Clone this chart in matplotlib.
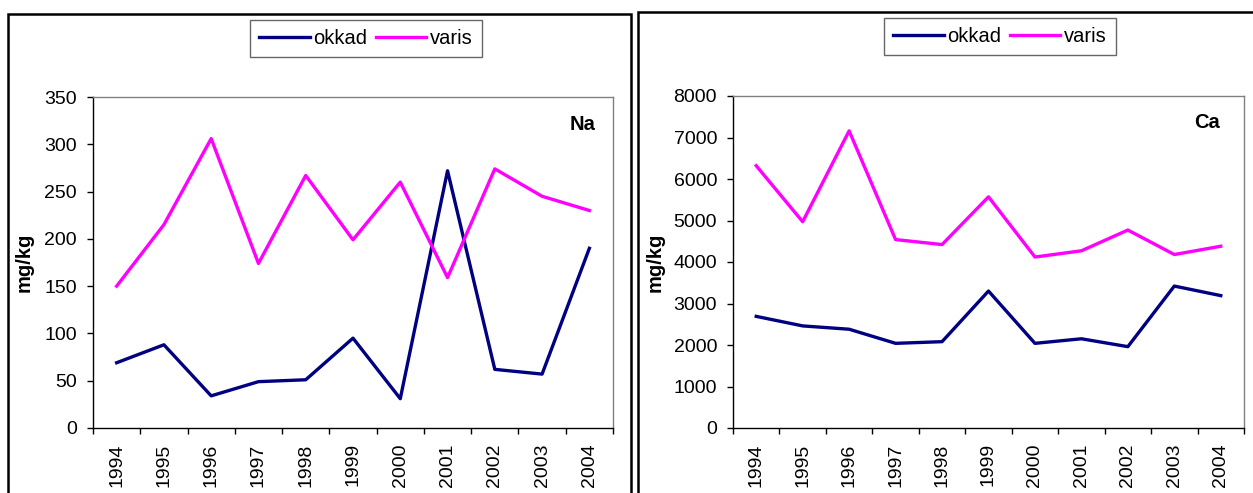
import matplotlib
matplotlib.use("Agg")
import matplotlib.pyplot as plt
from matplotlib.patches import Rectangle
from matplotlib.ticker import FixedLocator, NullFormatter

plt.rcParams['font.family'] = ['Liberation Sans', 'DejaVu Sans']

years = ["1994", "1995", "1996", "1997", "1998", "1999", "2000", "2001", "2002", "2003", "2004"]
na_okkad = [69, 88, 34, 49, 51, 95, 31, 272, 62, 57, 190]
na_varis = [150, 215, 306, 174, 267, 199, 260, 159, 274, 245, 230]
ca_okkad = [2690, 2460, 2380, 2040, 2080, 3300, 2040, 2150, 1960, 3420, 3190]
ca_varis = [6320, 4970, 7160, 4540, 4420, 5570, 4120, 4270, 4770, 4180, 4380]

W, H = 1253, 493
fig = plt.figure(figsize=(W / 100, H / 100), dpi=100)
fig.patch.set_facecolor("white")


def fx(px):
    return px / W


def fy(py):
    return 1 - py / H


# outer chart frames
for x0, x1, y0 in [(8, 631, 14), (638, 1262, 12)]:
    fig.patches.append(Rectangle((fx(x0), fy(H + 10)), fx(x1) - fx(x0), fy(y0) - fy(H + 10),
                                 transform=fig.transFigure, fill=False,
                                 edgecolor="black", linewidth=1.8, zorder=0))

panels = [
    dict(box=(93, 97, 613, 428), okkad=na_okkad, varis=na_varis, ymax=350, step=50,
         label="Na", lab_pos=(583, 124), legend=(366, 38.5), ylab_x=34),
    dict(box=(733, 96, 1244, 428), okkad=ca_okkad, varis=ca_varis, ymax=8000, step=1000,
         label="Ca", lab_pos=(1207, 122), legend=(1000, 36.5), ylab_x=665),
]

for p in panels:
    l, t, r, b = p["box"]
    ax = fig.add_axes([fx(l), fy(b), fx(r) - fx(l), fy(t) - fy(b)])
    x = list(range(len(years)))
    ax.plot(x, p["okkad"], color="#000080", linewidth=2.4, label="okkad")
    ax.plot(x, p["varis"], color="#FF00FF", linewidth=2.4, label="varis")
    ax.set_xlim(-0.5, len(years) - 0.5)
    ax.set_ylim(0, p["ymax"])
    ax.set_yticks(list(range(0, p["ymax"] + 1, p["step"])))
    ax.xaxis.set_major_locator(FixedLocator([i - 0.5 for i in range(len(years) + 1)]))
    ax.xaxis.set_major_formatter(NullFormatter())
    ax.xaxis.set_minor_locator(FixedLocator(x))
    ax.set_xticklabels(years, minor=True, rotation=90, fontsize=14)
    ax.tick_params(axis="x", which="major", length=4.5, width=1, direction="out")
    ax.tick_params(axis="x", which="minor", length=0, pad=11)
    ax.tick_params(axis="y", length=4.5, width=1, direction="out", labelsize=14, pad=7)
    for s in ("top", "right"):
        ax.spines[s].set_color("#808080")
        ax.spines[s].set_linewidth(1)
    for s in ("left", "bottom"):
        ax.spines[s].set_color("black")
        ax.spines[s].set_linewidth(1)
    ax.set_ylabel("mg/kg", fontsize=14.5, fontweight="bold")
    ax.yaxis.set_label_coords((p["ylab_x"] - l) / (r - l), 0.5)
    lpx, lpy = p["lab_pos"]
    ax.text((lpx - l) / (r - l), (b - lpy) / (b - t), p["label"], transform=ax.transAxes,
            ha="center", va="center", fontsize=14.5, fontweight="bold")
    lx, ly = p["legend"]
    leg = ax.legend(loc="center", bbox_to_anchor=(fx(lx), fy(ly)), bbox_transform=fig.transFigure,
                    ncol=2, fontsize=14.5, frameon=True, fancybox=False, edgecolor="#404040",
                    handlelength=2.5, handletextpad=0.2, columnspacing=0.4, borderpad=0.45,
                    borderaxespad=0)
    leg.get_frame().set_linewidth(1)
    for line in leg.get_lines():
        line.set_linewidth(2.4)

fig.savefig("out.png", dpi=100, facecolor="white")
